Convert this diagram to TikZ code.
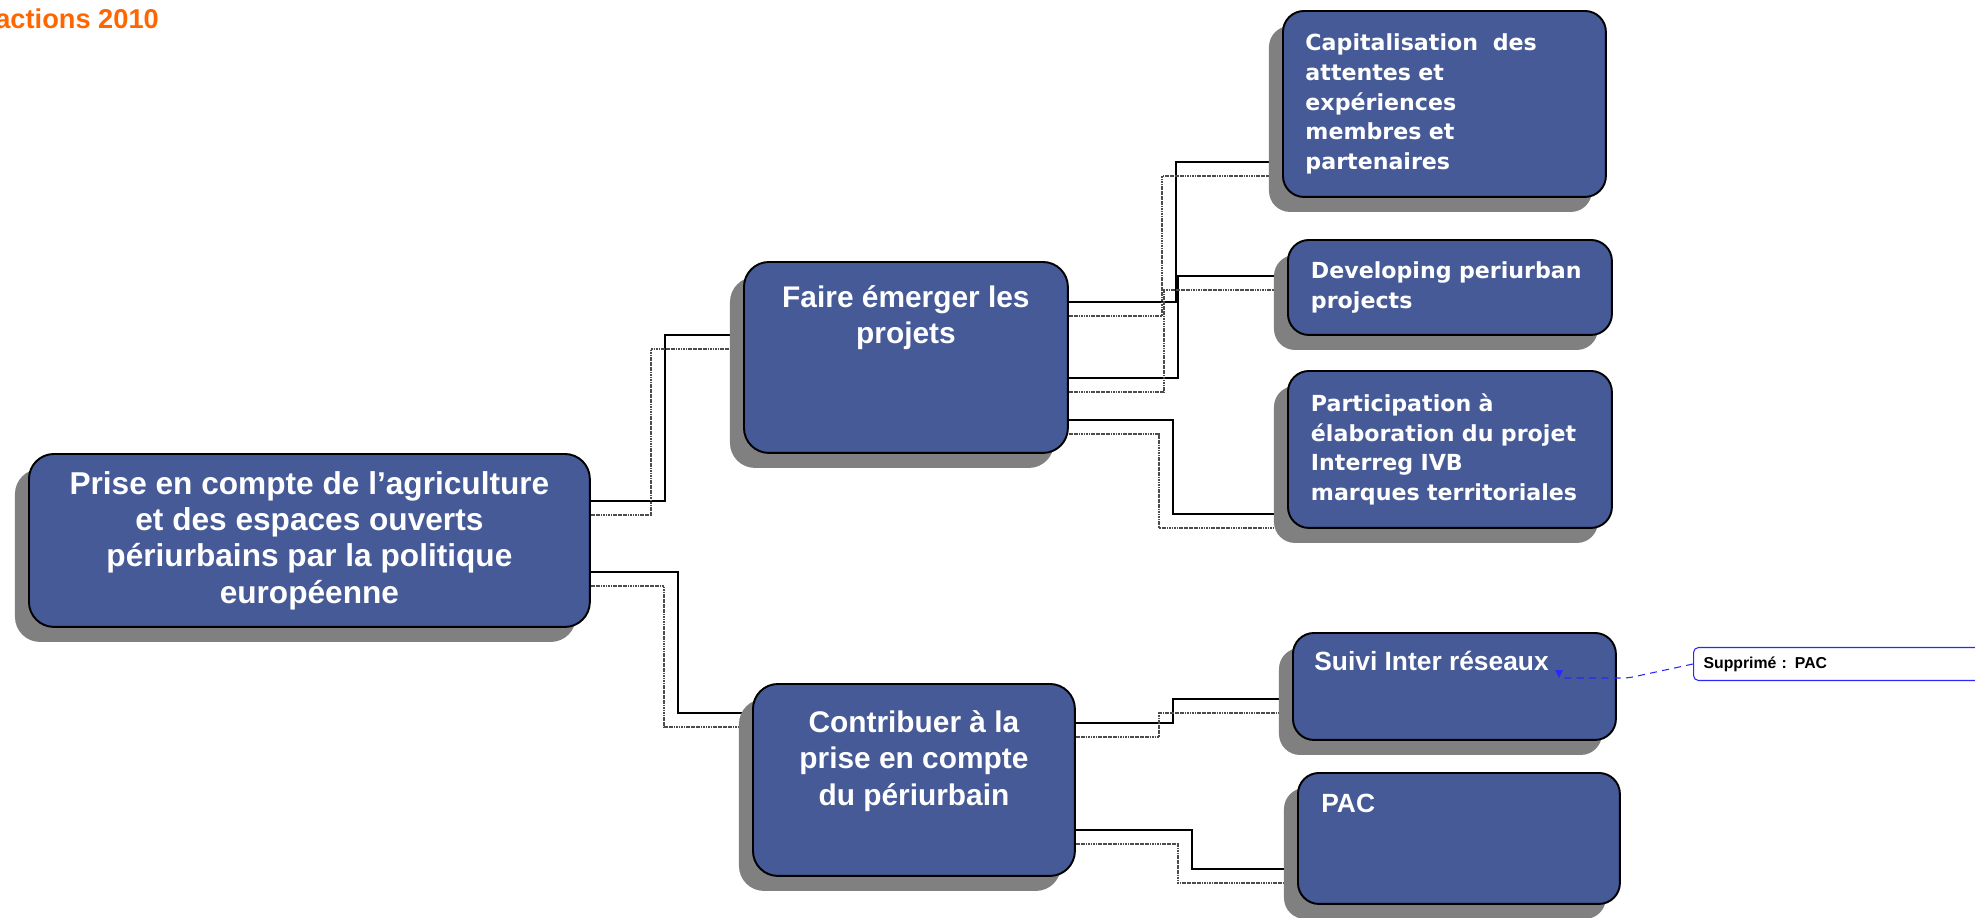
\documentclass[tikz,border=0pt]{standalone}
\usepackage{fontspec}
\setmainfont{Liberation Sans}
\newfontfamily\policeverdana{DejaVu Sans}
\usetikzlibrary{positioning,shadows,backgrounds}

\definecolor{bleuboite}{RGB}{69,90,150}
\definecolor{ombre}{RGB}{128,128,128}
\definecolor{orangetitre}{RGB}{255,102,0}
\definecolor{bleurenvoi}{RGB}{40,40,255}

\begin{document}
\begin{tikzpicture}[x=0.02cm, y=-0.02cm,
    boite/.style = {draw=black, line width=1.1pt, fill=bleuboite, anchor=north west,
      rounded corners=0.5cm, text=white,
      drop shadow={shadow xshift=-0.28cm, shadow yshift=-0.3cm, fill=ombre, opacity=1}},
    racine/.style = {align=center, font=\fontsize{18}{20.7}\selectfont\bfseries},
    feuille/.style = {boite, rounded corners=0.42cm, align=left, text width=5.56cm,
      inner xsep=0.45cm, font=\policeverdana\fontsize{12.6}{17}\selectfont\bfseries},
    textemilieu/.style = {inner sep=0pt, align=center, text=white,
      font=\fontsize{17}{20.7}\selectfont\bfseries},
    textepetit/.style = {inner sep=0pt, align=left, text=white,
      font=\fontsize{15}{18}\selectfont\bfseries},
    titre/.style = {inner sep=0pt, text=orangetitre, font=\fontsize{15.5}{18}\selectfont\bfseries},
    renvoi/.style = {draw=bleurenvoi, line width=0.6pt, rounded corners=0.1cm, fill=white,
      minimum height=0.66cm, text width=5.8cm, inner xsep=0.2cm, align=left,
      font=\fontsize{9}{11}\selectfont\bfseries},
    lien/.style = {draw=black, line width=1pt},
    lienombre/.style = {draw=black!70, line width=0.8pt, dash pattern=on 1pt off 0.4pt}]

  \useasboundingbox (0,0) rectangle (1975,917);

  \node[titre, anchor=base west] (titre) at (-5,28) {actions 2010};

  % niveau 1
  \node[boite, racine, minimum width=11.22cm, minimum height=3.46cm] (racine) at (28,453)
    {Prise en compte de l’agriculture\\et des espaces ouverts\\périurbains par la politique\\européenne};

  % niveau 2
  \node[boite, minimum width=6.48cm, minimum height=3.82cm] (faire) at (743,261) {};
  \node[textemilieu, below=0.48cm of faire.north] (faire-t) {Faire émerger les\\projets};
  \node[boite, minimum width=6.44cm, minimum height=3.84cm] (contrib) at (752,683) {};
  \node[textemilieu, below=0.54cm of contrib.north] (contrib-t) {Contribuer à la\\prise en compte\\du périurbain};

  % niveau 3
  \node[feuille, minimum width=6.46cm, minimum height=3.72cm] (cap) at (1282,10)
    {Capitalisation\ \ des\\attentes et\\expériences\\membres et\\partenaires};
  \node[feuille, minimum width=6.48cm, minimum height=1.9cm] (dev) at (1287,239)
    {Developing periurban\\projects};
  \node[feuille, minimum width=6.48cm, minimum height=3.14cm] (part) at (1287,370)
    {Participation à\\élaboration du projet\\Interreg IVB\\marques territoriales};
  \node[boite, rounded corners=0.42cm, minimum width=6.46cm, minimum height=2.14cm] (suivi) at (1292,632) {};
  \node[textepetit, below right=0.38cm and 0.44cm of suivi.north west] (suivi-t) {Suivi Inter réseaux};
  \node[boite, rounded corners=0.42cm, minimum width=6.44cm, minimum height=2.62cm] (pac) at (1297,772) {};
  \node[textepetit, below right=0.44cm and 0.48cm of pac.north west] (pac-t) {PAC};

  % commentaire
  \node[renvoi, anchor=west] (suppr) at (1693,664) {Supprimé : PAC};
  \coordinate (ancre) at (1559,678);
  \draw[bleurenvoi, line width=0.6pt, dash pattern=on 4pt off 3pt, rounded corners=0.1cm]
    (suppr.west) -- (1628,678) -- (ancre);
  \fill[bleurenvoi] (ancre) ++(-4,-8) -- ++(8,0) -- (ancre) -- cycle;

  % liaisons
  \begin{scope}[on background layer]
    \draw[lien] (racine.east |- 0,501) -| (665,335) -- (faire.west |- 0,335);
    \draw[lienombre] (racine.east |- 0,515) -| (651,349) -- (faire.west |- 0,349);
    \draw[lien] (racine.east |- 0,572) -| (678,713) -- (contrib.west |- 0,713);
    \draw[lienombre] (racine.east |- 0,586) -| (664,727) -- (contrib.west |- 0,727);
    \draw[lien] (faire.east |- 0,302) -| (1176,162) -- (cap.west |- 0,162);
    \draw[lienombre] (faire.east |- 0,316) -| (1162,176) -- (cap.west |- 0,176);
    \draw[lien] (faire.east |- 0,378) -| (1178,276) -- (dev.west |- 0,276);
    \draw[lienombre] (faire.east |- 0,392) -| (1164,290) -- (dev.west |- 0,290);
    \draw[lien] (faire.east |- 0,420) -| (1173,514) -- (part.west |- 0,514);
    \draw[lienombre] (faire.east |- 0,434) -| (1159,528) -- (part.west |- 0,528);
    \draw[lien] (contrib.east |- 0,723) -| (1173,699) -- (suivi.west |- 0,699);
    \draw[lienombre] (contrib.east |- 0,737) -| (1159,713) -- (suivi.west |- 0,713);
    \draw[lien] (contrib.east |- 0,830) -| (1192,869) -- (pac.west |- 0,869);
    \draw[lienombre] (contrib.east |- 0,844) -| (1178,883) -- (pac.west |- 0,883);
  \end{scope}
\end{tikzpicture}
\end{document}
